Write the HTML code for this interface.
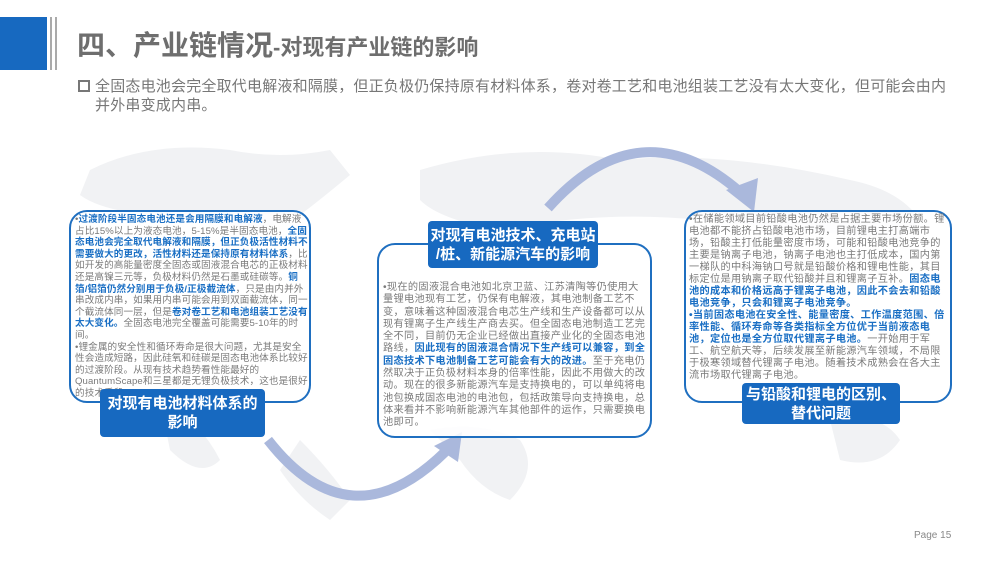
<!DOCTYPE html>
<html><head><meta charset="utf-8"><style>
*{margin:0;padding:0;box-sizing:border-box}
body{width:1000px;height:562px;background:#fff;position:relative;overflow:hidden;font-family:"Liberation Sans","Noto Sans CJK SC",sans-serif}
.abs{position:absolute}
.t{color:#7a7a7a;font-size:10.2px;line-height:12.3px;letter-spacing:0.3px}
.b{color:#1a6fc4;font-weight:bold}
.box{position:absolute;border:2px solid #1f6fc0;border-radius:18px;background:rgba(255,255,255,0.85)}
.lab{position:absolute;background:#1769c0;color:#fff;font-weight:bold;font-size:15px;line-height:19px;text-align:center;border-radius:4px;display:flex;align-items:center;justify-content:center}
</style></head><body>
<svg class="abs" style="left:0;top:0" width="1000" height="562">
<g fill="#f1f2f4">
<path d="M90,170 Q150,140 230,150 Q280,160 330,150 L350,175 Q320,200 300,215 L260,230 Q200,220 150,215 Q100,210 80,195 Z"/>
<path d="M300,440 Q330,470 350,500 L330,520 Q300,500 280,470 Z"/>
<path d="M420,170 Q520,140 620,160 Q720,150 850,180 Q900,190 920,220 L900,240 Q800,230 700,220 Q600,210 500,230 Q440,220 420,200 Z"/>
<path d="M430,430 Q480,420 520,440 Q540,470 510,500 Q480,490 460,460 Z"/>
<path d="M830,420 Q880,410 900,440 Q880,470 840,460 Z"/>
<path d="M160,400 Q200,420 220,460 Q200,480 170,450 Z"/>
</g>
<rect x="0" y="17" width="47" height="53" fill="#1769c0"/>
<rect x="50" y="17" width="2" height="53" fill="#aaa"/>
<rect x="55" y="17" width="2" height="53" fill="#aaa"/>
<g fill="none" stroke="#aab8dc" stroke-width="10">
<path d="M548,208 Q640,105 740,192"/>
<path d="M268,440 Q350,545 445,452"/>
</g>
<polygon points="726,190 758,178 754,212" fill="#aab8dc"/>
<polygon points="434,446 462,432 458,462" fill="#aab8dc"/>
</svg>
<div class="abs" style="left:77px;top:26px;color:#6e6e6e;font-weight:bold;font-size:28px;line-height:40px;white-space:nowrap">四、产业链情况<span style="font-size:22px">-对现有产业链的影响</span></div>
<div class="abs" style="left:78px;top:80px;width:12px;height:12px;border:2px solid #777"></div>
<div class="abs" style="left:95px;top:77px;width:860px;color:#777;font-size:15px;line-height:19px;letter-spacing:0.2px">全固态电池会完全取代电解液和隔膜，但正负极仍保持原有材料体系，卷对卷工艺和电池组装工艺没有太大变化，但可能会由内并外串变成内串。</div>

<div class="box" style="left:69px;top:210px;width:242px;height:193px"></div>
<div class="abs t" style="left:75px;top:214px;width:234px;font-size:9.6px;line-height:11.6px;letter-spacing:0.1px">•<span class="b">过渡阶段半固态电池还是会用隔膜和电解液</span>，电解液占比15%以上为液态电池，5-15%是半固态电池，<span class="b">全固态电池会完全取代电解液和隔膜，但正负极活性材料不需要做大的更改，活性材料还是保持原有材料体系</span>，比如开发的高能量密度全固态或固液混合电芯的正极材料还是高镍三元等，负极材料仍然是石墨或硅碳等。<span class="b">铜箔/铝箔仍然分别用于负极/正极截流体</span>，只是由内并外串改成内串，如果用内串可能会用到双面截流体，同一个截流体同一层，但是<span class="b">卷对卷工艺和电池组装工艺没有太大变化。</span>全固态电池完全覆盖可能需要5-10年的时间。<br>•锂金属的安全性和循环寿命是很大问题，尤其是安全性会造成短路，因此硅氧和硅碳是固态电池体系比较好的过渡阶段。从现有技术趋势看性能最好的QuantumScape和三星都是无锂负极技术，这也是很好的技术手段。</div>
<div class="lab" style="left:100px;top:389px;width:165px;height:48px">对现有电池材料体系的<br>影响</div>

<div class="box" style="left:377px;top:243px;width:275px;height:195px"></div>
<div class="abs t" style="left:383px;top:282px;width:265px">•现在的固液混合电池如北京卫蓝、江苏清陶等仍使用大量锂电池现有工艺，仍保有电解液，其电池制备工艺不变，意味着这种固液混合电芯生产线和生产设备都可以从现有锂离子生产线生产商去买。但全固态电池制造工艺完全不同，目前仍无企业已经做出直接产业化的全固态电池路线，<span class="b">因此现有的固液混合情况下生产线可以兼容，到全固态技术下电池制备工艺可能会有大的改进。</span>至于充电仍然取决于正负极材料本身的倍率性能，因此不用做大的改动。现在的很多新能源汽车是支持换电的，可以单纯将电池包换成固态电池的电池包，包括政策导向支持换电，总体来看并不影响新能源汽车其他部件的运作，只需要换电池即可。</div>
<div class="lab" style="left:428px;top:221px;width:170px;height:47px">对现有电池技术、充电站<br>/桩、新能源汽车的影响</div>

<div class="box" style="left:684px;top:210px;width:268px;height:193px"></div>
<div class="abs t" style="left:689px;top:214px;width:258px;line-height:12px">•在储能领域目前铅酸电池仍然是占据主要市场份额。锂电池都不能挤占铅酸电池市场，目前锂电主打高端市场，铅酸主打低能量密度市场，可能和铅酸电池竞争的主要是钠离子电池，钠离子电池也主打低成本，国内第一梯队的中科海钠口号就是铅酸价格和锂电性能，其目标定位是用钠离子取代铅酸并且和锂离子互补。<span class="b">固态电池的成本和价格远高于锂离子电池，因此不会去和铅酸电池竞争，只会和锂离子电池竞争。</span><br><span class="b">•当前固态电池在安全性、能量密度、工作温度范围、倍率性能、循环寿命等各类指标全方位优于当前液态电池，定位也是全方位取代锂离子电池。</span>一开始用于军工、航空航天等，后续发展至新能源汽车领域，不局限于极寒领域替代锂离子电池。随着技术成熟会在各大主流市场取代锂离子电池。</div>
<div class="lab" style="left:742px;top:383px;width:158px;height:41px">与铅酸和锂电的区别、<br>替代问题</div>

<div class="abs" style="left:914px;top:530px;color:#888;font-size:10px">Page 15</div>
</body></html>
